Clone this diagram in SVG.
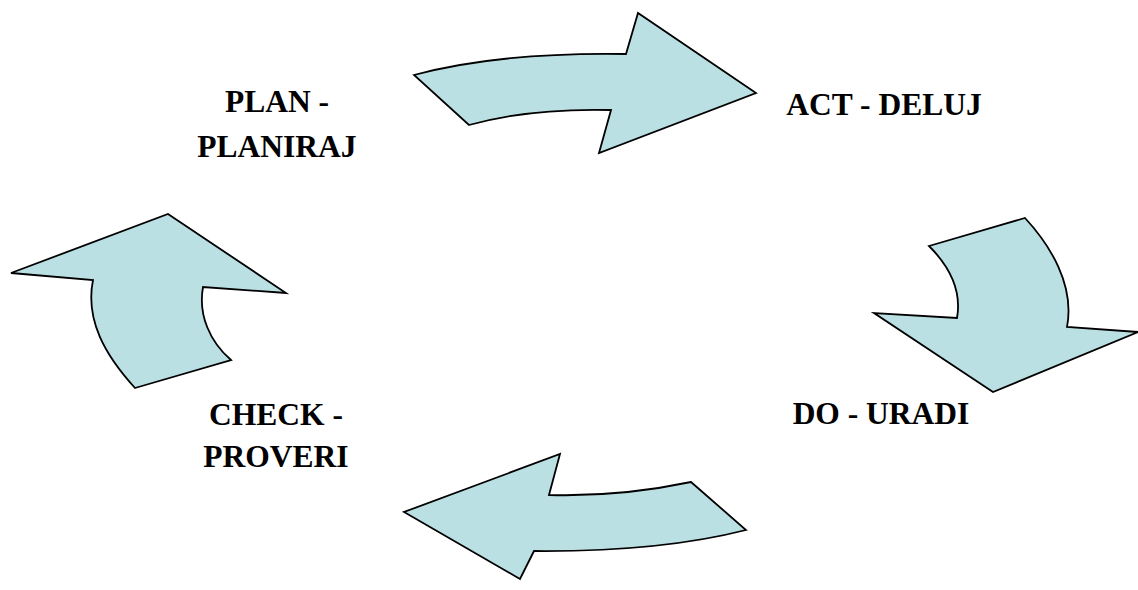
<svg xmlns="http://www.w3.org/2000/svg" width="1138" height="590" viewBox="0 0 1138 590">
<style>
.arr{fill:#bbe0e3;stroke:#000;stroke-width:1.8;stroke-linejoin:miter}
.lbl{font-family:"Liberation Serif","Times New Roman",serif;font-weight:bold;font-size:31.5px;fill:#000;text-anchor:middle}
</style>
<rect width="1138" height="590" fill="#fff"/>
<g id="connectors">
<path id="arrow-plan-act" class="arr" d="M414,75 Q500,52 626,54 L638,13 L756,93 L599,153 L611,110 Q530,108 469,125 Z"/>
<path id="arrow-act-do" class="arr" d="M929,246 L1025,218 C1050,245 1075,285 1067,327 L1138,332 L993,392 L874,313 L957,318 C962,290 948,265 929,246 Z"/>
<path id="arrow-do-check" class="arr" d="M691,482 L746,530 Q660,552 534,551 L520,579 L404,512 L560,454 L549,495 Q620,497 691,482 Z"/>
<path id="arrow-check-plan" class="arr" d="M135,388 L231,360 C210,342 198,315 203,287 L286,293 L168,214 L11,273 L93,280 C85,320 105,355 135,388 Z"/>
</g>
<g id="node-plan"><text class="lbl" x="277" y="112">PLAN -</text><text class="lbl" x="277" y="157">PLANIRAJ</text></g>
<g id="node-act"><text class="lbl" x="884" y="115">ACT - DELUJ</text></g>
<g id="node-do"><text class="lbl" x="881" y="424">DO - URADI</text></g>
<g id="node-check"><text class="lbl" x="276" y="425">CHECK -</text><text class="lbl" x="276" y="467">PROVERI</text></g>
</svg>
